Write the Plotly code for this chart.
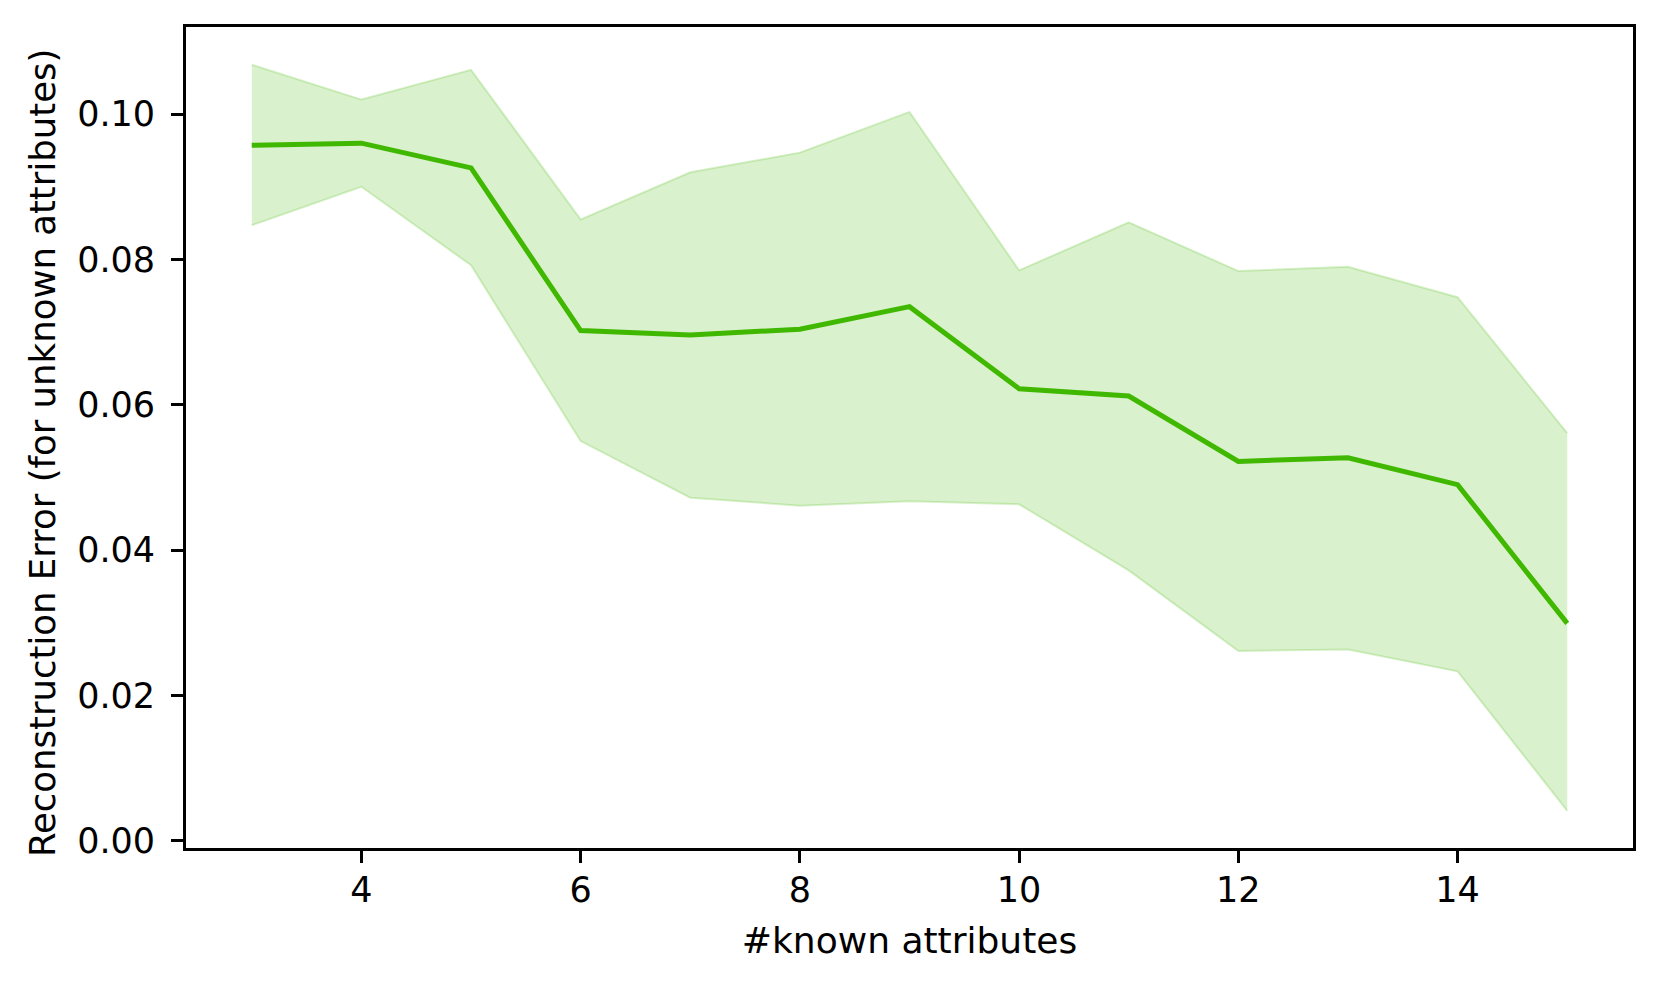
import plotly.graph_objects as go

known_attributes = [3, 4, 5, 6, 7, 8, 9, 10, 11, 12, 13, 14, 15]
mean_error = [0.0957, 0.0960, 0.0926, 0.0702, 0.0696, 0.0704, 0.0735, 0.0622, 0.0612, 0.0522, 0.0527, 0.0490, 0.0299]
upper_error = [0.1068, 0.1020, 0.1061, 0.0855, 0.0920, 0.0947, 0.1003, 0.0785, 0.0851, 0.0784, 0.0790, 0.0748, 0.0561]
lower_error = [0.0847, 0.0900, 0.0792, 0.0550, 0.0472, 0.0461, 0.0467, 0.0463, 0.0372, 0.0261, 0.0263, 0.0233, 0.0041]

LINE = "#40b800"
BAND = "rgba(64,184,0,0.2)"
FONT = "DejaVu Sans"

fig = go.Figure()
fig.add_trace(go.Scatter(x=known_attributes, y=lower_error, mode="lines",
                         line=dict(color=BAND, width=2), showlegend=False, hoverinfo="skip"))
fig.add_trace(go.Scatter(x=known_attributes, y=upper_error, mode="lines", fill="tonexty",
                         fillcolor=BAND, line=dict(color=BAND, width=2), showlegend=False, hoverinfo="skip"))
fig.add_trace(go.Scatter(x=known_attributes, y=mean_error, mode="lines",
                         line=dict(color=LINE, width=5), showlegend=False))

axis_common = dict(showline=True, linecolor="black", linewidth=2.8, mirror=True,
                   ticks="outside", ticklen=12, tickwidth=2.8, tickcolor="black",
                   showgrid=False, zeroline=False,
                   tickfont=dict(family=FONT, size=35, color="black"),
                   title_font=dict(family=FONT, size=36, color="black"))

fig.update_xaxes(range=[2.4, 15.6], tick0=0, dtick=2, ticklabelstandoff=-3,
                 title_text="#known attributes", title_standoff=19, **axis_common)
fig.update_yaxes(range=[-0.00101, 0.11199], tick0=0, dtick=0.02, tickformat=".2f",
                 ticklabelstandoff=9, **axis_common)

fig.add_annotation(text="Reconstruction Error (for unknown attributes)",
                   xref="paper", yref="paper", x=-0.0995, y=0.481,
                   xanchor="center", yanchor="middle", textangle=-90, showarrow=False,
                   font=dict(family=FONT, size=35.5, color="black"))

fig.update_layout(width=1660, height=988,
                  margin=dict(l=186, r=27, t=27, b=140),
                  paper_bgcolor="white", plot_bgcolor="white",
                  font=dict(family=FONT, color="black"))

fig.write_html("out.html", config={"displayModeBar": False},
               post_script="document.body.style.margin='0';document.body.style.overflow='hidden';")
